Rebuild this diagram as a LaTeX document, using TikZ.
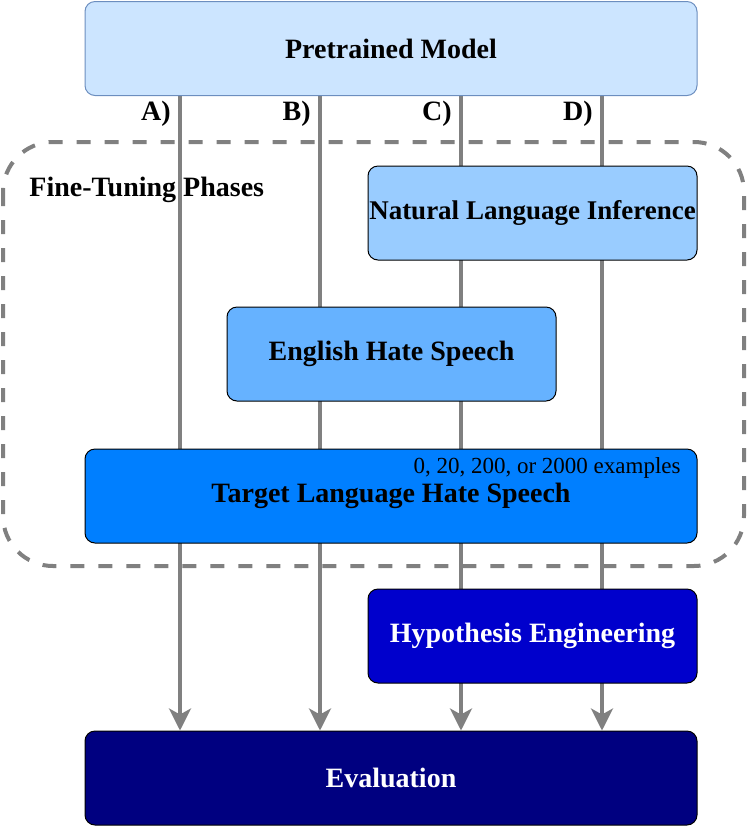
\documentclass[tikz,border=0pt]{standalone}
\usepackage{fontspec}
\setmainfont{Liberation Serif}
\usetikzlibrary{arrows.meta, positioning, backgrounds}

\definecolor{pmfill}{HTML}{CCE5FF}
\definecolor{pmline}{HTML}{6C8EBF}
\definecolor{nlifill}{HTML}{99CCFF}
\definecolor{ehsfill}{HTML}{66B2FF}
\definecolor{tlfill}{HTML}{007FFF}
\definecolor{hefill}{HTML}{0000CC}
\definecolor{evfill}{HTML}{000080}
\definecolor{flowgray}{HTML}{808080}

\begin{document}
\begin{tikzpicture}[x=0.5pt, y=-0.5pt,
	box/.style={draw, rounded corners=5pt, minimum height=47pt, inner sep=0pt,
		line width=0.5pt, font=\bfseries\fontsize{14}{16}\selectfont},
	wide/.style={box, minimum width=306pt},
	narrow/.style={box, minimum width=164.5pt},
	flow/.style={draw=flowgray, line width=1.75pt, -{Stealth[length=11pt, width=11pt, inset=3pt]}},
	lbl/.style={font=\bfseries\fontsize{14}{16}\selectfont, inner sep=0pt},
	phases/.style={draw=flowgray, line width=2pt, dash pattern=on 7pt off 7pt, rounded corners=25pt}]
	\useasboundingbox (0,0) rectangle (747,827);

	\node[wide, fill=pmfill, draw=pmline] (pm) at (391,48.5) {Pretrained Model};
	\node[narrow, fill=nlifill, font=\bfseries\fontsize{13.5}{16}\selectfont] (nli) at (532.5,213) {Natural Language Inference};
	\node[narrow, fill=ehsfill] (ehs) at (391.5,354) {English Hate Speech};
	\node[wide, fill=tlfill] (tl) at (391,496) {Target Language Hate Speech};
	\node[narrow, fill=hefill, text=white] (he) at (532.5,636) {Hypothesis Engineering};
	\node[wide, fill=evfill, text=white] (ev) at (391,778) {Evaluation};

	\node[anchor=east, inner sep=0pt, font=\fontsize{11.5}{13}\selectfont] (count) at (681,468) {0, 20, 200, or 2000 examples};
	\node[lbl, anchor=west] (ftp) at (29,190) {Fine-Tuning Phases};

	% the four fine-tuning paths
	\coordinate (xa) at (180,0);
	\coordinate (xb) at (320,0);
	\coordinate (xc) at (461,0);
	\coordinate (xd) at (602,0);
	\node[lbl, anchor=east] (la) at (171,114) {A)};
	\node[lbl, anchor=east] (lb) at (311,114) {B)};
	\node[lbl, anchor=east] (lc) at (452,114) {C)};
	\node[lbl, anchor=east] (ld) at (593,114) {D)};

	\begin{scope}[on background layer]
		\draw[phases] (3,142) rectangle (744,566);
		\foreach \p in {xa, xb, xc, xd}
			\draw[flow] (pm.south -| \p) -- (ev.north -| \p);
	\end{scope}
\end{tikzpicture}
\end{document}
